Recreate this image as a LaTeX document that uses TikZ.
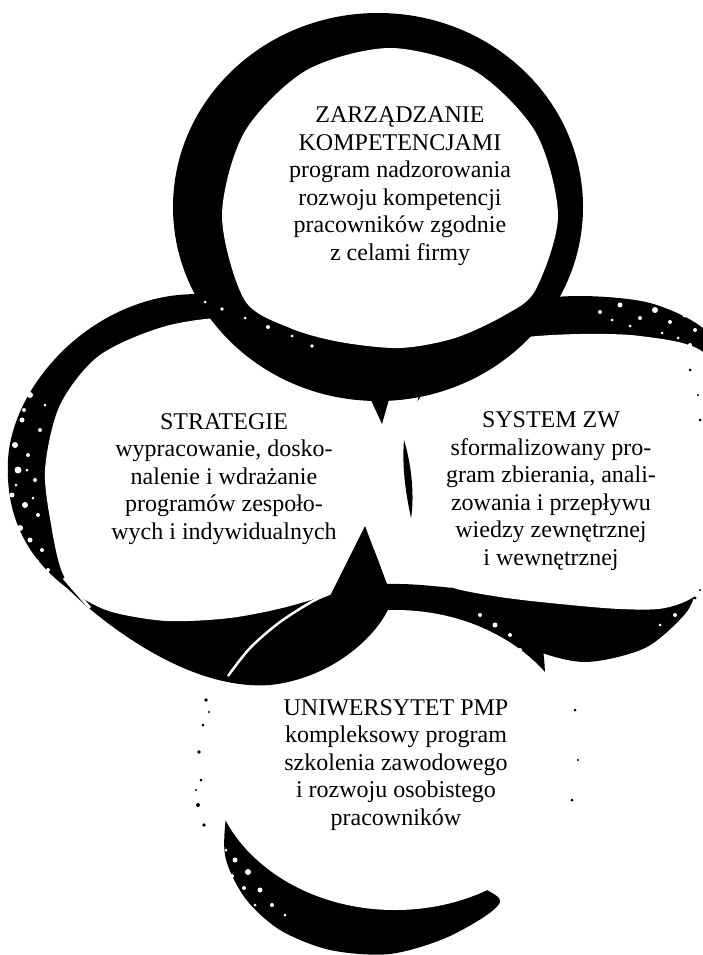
\documentclass[tikz,border=0pt]{standalone}
\usepackage{fontspec}
\setmainfont{Liberation Serif}
\begin{document}
\begin{tikzpicture}[x=1pt,y=-1pt,
  ink/.style={fill=black},
  paper/.style={fill=white},
  gapline/.style={draw=white,line width=3pt},
  lbl/.style={font=\fontsize{24}{27.5}\selectfont,align=center,inner sep=0pt,text=black}]
\useasboundingbox (0,0) rectangle (703,955);
\fill[paper] (0,0) rectangle (703,955);

% ---- UNIWERSYTET PMP (bottom) ----
\fill[ink] plot[smooth cycle] coordinates {(233,668) (280,622) (337,589) (400,584) (470,590) (530,600) (545,690) (520,780) (470,870) (500,902) (450,936) (390,954) (330,950) (280,930) (245,898) (225,855) (228,800) (240,740) (245,700)};
\fill[paper] (395,760) ellipse [x radius=185, y radius=150];

% ---- SYSTEM ZW (right) ----
\fill[ink] plot[smooth cycle] coordinates {(412,470) (425,530) (445,578) (475,612) (530,648) (585,662) (645,648) (685,614) (700,585) (730,540) (730,380) (705,330) (650,303) (580,296) (510,303) (462,328) (428,368) (414,420)};
\fill[paper] plot[smooth cycle] coordinates {(398,470) (405,520) (420,562) (448,586) (500,597) (560,604) (620,609) (665,608) (700,592) (740,540) (740,400) (700,350) (640,336) (580,334) (520,338) (470,352) (432,382) (408,420)};

% ---- STRATEGIE (left) ----
\fill[ink] (365,527) -- (378,560) -- (392,600)
  .. controls (382,632) and (335,678) .. (270,685)
  .. controls (215,689) and (150,660) .. (84,604)
  -- (67,588)
  .. controls (30,560) and (5,520) .. (8,460)
  .. controls (12,390) and (80,310) .. (170,296)
  .. controls (250,285) and (320,320) .. (340,420)
  -- cycle;
\fill[paper] plot[smooth cycle] coordinates {(45,470) (52,530) (62,572) (80,596) (112,612) (167,621) (230,618) (290,606) (340,588) (372,552) (393,505) (400,470) (387,400) (330,345) (250,318) (170,325) (100,355) (60,405)};
\draw[gapline] (64,578) -- (90,608);
% outline of the bottom circle crossing the band
\draw[gapline,line width=2.5pt] plot[smooth] coordinates {(228,676) (250,648) (280,622) (315,600) (345,588)};

% ---- ZARZADZANIE (top) ----
\fill[ink] (378,207) ellipse [x radius=205, y radius=194];
\fill[paper] plot[smooth cycle] coordinates {(558,216) (535.5,132) (474,70.5) (390,48) (306,70.5) (244.5,132) (222,216) (244.5,300) (290,328) (340,342) (400,348) (455,338) (505,315) (535.5,290)};

% ---- small marks between the circles ----
\fill[ink] (370,398) -- (390,396) -- (382,424) -- cycle;
\fill[ink] (404,440) .. controls (413,470) and (414,500) .. (411,518)
  .. controls (405,490) and (402,465) .. (404,440) -- cycle;
\fill[ink] (365,526) -- (393,600) -- (328,600) -- cycle;

% ---- brush texture ----
\foreach \px/\py/\pr in {30/395/3, 22/420/2.5, 40/430/2, 15/445/3, 28/455/2, 18/470/3.5, 35/480/2, 12/495/2.5, 25/505/3, 38/515/2, 20/528/3, 30/540/2.5, 42/550/2, 36/562/3, 48/570/2, 24/410/2, 45/405/1.5, 16/485/1.5, 33/498/1.5, 27/470/1.5,
  600/312/2, 620/305/2.5, 640/318/2, 655/310/3, 670/322/2, 685/315/2.5, 695/330/2, 630/326/1.5, 662/333/1.5, 690/345/2, 612/320/1.5, 678/338/1.5,
  235/860/2.5, 248/872/3, 232/876/2, 260/890/2.5, 244/888/2, 272/905/2, 255/905/1.5, 226/850/1.5, 285/915/1.5,
  480/615/2, 495/625/2.5, 510/635/2, 500/645/1.5, 520/650/2, 488/632/1.5, 660/625/1.5, 675/615/2,
  205/302/1.5, 222/309/1.8, 245/318/1.5, 268/327/2, 292/336/1.5, 312/346/1.8}
  \fill[paper] (\px,\py) circle [radius=\pr];
\foreach \px/\py/\pr in {206/700/1.8, 203/725/1.5, 199/752/1.8, 201/780/1.5, 198/805/2, 204/825/1.8, 209/712/1.2, 196/790/1.2, 575/710/1.5, 578/760/1.2, 572/800/1.5, 690/370/1.5, 698/395/1.2, 700/420/1.5, 695/598/1.5, 700/590/1.2}
  \fill[ink] (\px,\py) circle [radius=\pr];

% ---- texts ----
\node[lbl] (tA) at (400,186) {ZARZĄDZANIE\\KOMPETENCJAMI\\program nadzorowania\\rozwoju kompetencji\\pracowników zgodnie\\z celami firmy};
\node[lbl] (tB) at (224,479) {STRATEGIE\\wypracowanie, dosko-\\nalenie i wdrażanie\\programów zespoło-\\wych i indywidualnych};
\node[lbl] (tC) at (551,491) {SYSTEM ZW\\sformalizowany pro-\\gram zbierania, anali-\\zowania i przepływu\\wiedzy zewnętrznej\\i wewnętrznej};
\node[lbl] (tD) at (396,765) {UNIWERSYTET PMP\\kompleksowy program\\szkolenia zawodowego\\i rozwoju osobistego\\pracowników};
\end{tikzpicture}
\end{document}
